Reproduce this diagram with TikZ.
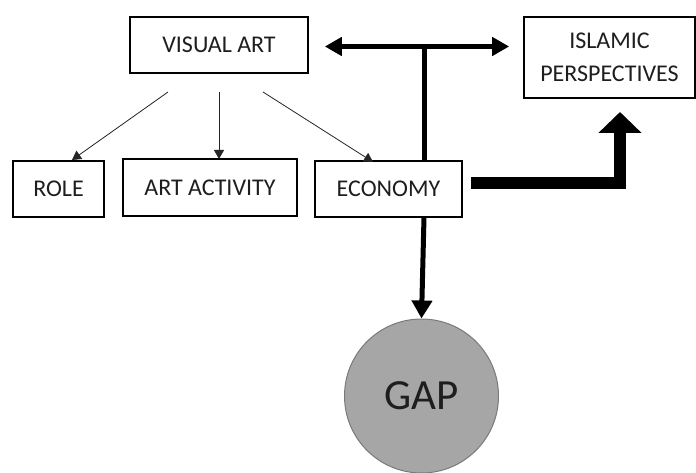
\documentclass[tikz,border=0pt]{standalone}
\usepackage{fontspec}
\setmainfont{Carlito}
\usetikzlibrary{arrows.meta}
\definecolor{txt}{HTML}{1E1E1E}
\definecolor{gapfill}{HTML}{A6A6A6}
\definecolor{gapline}{HTML}{7A7A7A}
\begin{document}
\begin{tikzpicture}[x=1pt,y=-1pt,
  box/.style={draw=black,line width=1.6pt,fill=white,inner sep=0pt,align=center,
    text=txt,font=\fontsize{24}{33}\selectfont},
  thin/.style={line width=0.8pt,draw=black!85,-{Triangle[length=9pt,width=10pt]}},
  thick/.style={line width=5pt,draw=black}]
\useasboundingbox (0,0) rectangle (696,473);
\fill[white] (0,0) rectangle (696,473);
% nodes
\node[box,minimum width=178pt,minimum height=56pt] (va) at (219,45) {VISUAL ART};
\node[box,minimum width=171pt,minimum height=81pt] (isl) at (609.5,57.5) {ISLAMIC\\PERSPECTIVES};
\node[box,minimum width=91pt,minimum height=56pt] (role) at (58.5,189) {ROLE};
\node[box,minimum width=174pt,minimum height=57pt] (act) at (210,187.5) {ART ACTIVITY};
\node[box,minimum width=147pt,minimum height=56pt] (eco) at (388.5,189) {ECONOMY};
\node[circle,draw=gapline,fill=gapfill,line width=1pt,minimum size=154pt,inner sep=0pt,
  text=txt,font=\fontsize{43}{50}\selectfont] (gap) at (421.5,396) {GAP};
% coordinates
\coordinate (t) at (424,46.5);
\coordinate (ecotop) at (424,161);
\coordinate (ecobot) at (424,217);
% thin arrows
\draw[thin] (168,92) -- (72,160);
\draw[thin] (219,92) -- (219,159);
\draw[thin] (263,92) -- (373,162);
% double arrow
\draw[thick,{Triangle[length=17pt,width=18pt]}-{Triangle[length=17pt,width=18pt]}]
  ([xshift=16pt]va.east |- t) -- ([xshift=-14pt]isl.west |- t);
\draw[thick] (t) -- (ecotop);
\draw[thick,-{Triangle[length=18pt,width=20pt]}] (ecobot) -- (gap.north);
% elbow arrow
\draw[line width=12pt,-{Triangle[length=21pt,width=42pt]}]
  ([shift={(8,-6)}]eco.east) -- (620,183) -- (620,112);
\end{tikzpicture}
\end{document}
